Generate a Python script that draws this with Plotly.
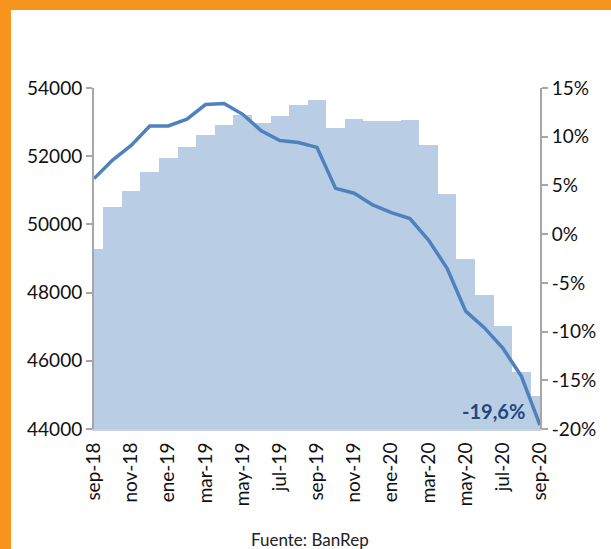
import plotly.graph_objects as go

months = ["sep-18", "oct-18", "nov-18", "dic-18", "ene-19", "feb-19", "mar-19", "abr-19",
          "may-19", "jun-19", "jul-19", "ago-19", "sep-19", "oct-19", "nov-19", "dic-19",
          "ene-20", "feb-20", "mar-20", "abr-20", "may-20", "jun-20", "jul-20", "ago-20", "sep-20"]
nivel = [49280, 50500, 50990, 51525, 51950, 52260, 52630, 52925, 53200, 52975, 53165, 53510,
         53655, 52830, 53100, 53020, 53040, 53050, 52340, 50900, 48995, 47920, 47010, 45660, 44955]
variacion = [5.7, 7.6, 9.1, 11.1, 11.1, 11.8, 13.3, 13.4, 12.3, 10.6, 9.6, 9.4, 8.9,
             4.7, 4.2, 3.0, 2.2, 1.6, -0.6, -3.5, -7.9, -9.6, -11.7, -14.6, -19.6]
left_ticks = [44000, 46000, 48000, 50000, 52000, 54000]
right_ticks = [-20, -15, -10, -5, 0, 5, 10, 15]
right_ticktext = ["-20%", "-15%", "-10%", "-5%", "0%", "5%", "10%", "15%"]
x_tick_idx = list(range(0, 25, 2))
x_ticktext = [months[i] for i in x_tick_idx]
idx = list(range(len(months)))

W, H = 611, 549
L, R, T, B = 94, 71, 88, 120
pw, ph = W - L - R, H - T - B


def px_x(p):
    return (p - L) / pw


def px_y(p):
    return (H - B - p) / ph


FONT = "Lato"
fig = go.Figure()
fig.add_trace(go.Bar(x=idx, y=nivel, marker=dict(color="#B9CDE5", line=dict(width=0)),
                     width=1, yaxis="y", hoverinfo="skip"))
fig.add_trace(go.Scatter(x=idx, y=variacion, mode="lines", yaxis="y2",
                         line=dict(color="#4F81BD", width=3.5)))

fig.add_annotation(x=24, y=variacion[-1], xref="x", yref="y2", text="<b>-19,6%</b>",
                   showarrow=False, xanchor="right", yanchor="middle", xshift=-13, yshift=14,
                   font=dict(family=FONT, size=20, color="#1F497D"))
fig.add_annotation(x=px_x(310), y=px_y(539), xref="paper", yref="paper",
                   text="Fuente: BanRep", showarrow=False, xanchor="center", yanchor="middle",
                   font=dict(family=FONT, size=17, color="#222222"))

# orange frame (top and left)
fig.add_shape(type="rect", xref="paper", yref="paper", x0=px_x(-5), x1=px_x(W + 5),
              y0=px_y(10), y1=px_y(-5), fillcolor="#F7941D", line=dict(width=0), layer="above")
fig.add_shape(type="rect", xref="paper", yref="paper", x0=px_x(-5), x1=px_x(11),
              y0=px_y(H + 5), y1=px_y(-5), fillcolor="#F7941D", line=dict(width=0), layer="above")

fig.update_layout(
    width=W, height=H, margin=dict(l=L, r=R, t=T, b=B),
    paper_bgcolor="white", plot_bgcolor="white", showlegend=False, bargap=0,
    font=dict(family=FONT, size=19, color="#111111"),
    xaxis=dict(range=[0, 24], tickvals=x_tick_idx, ticktext=x_ticktext, tickangle=-90,
               showgrid=False, zeroline=False, showline=True, linecolor="#C9D3E0", linewidth=2,
               ticks="outside", ticklen=4, tickcolor="rgba(0,0,0,0)", tickfont=dict(size=19)),
    yaxis=dict(range=[44000, 54000], tickvals=left_ticks, showgrid=False, zeroline=False,
               showline=True, linecolor="#A6A6A6", linewidth=2, ticks="outside", ticklen=6,
               tickcolor="#A6A6A6", tickwidth=1.5, tickformat="d"),
    yaxis2=dict(range=[-20, 15], overlaying="y", side="right", tickvals=right_ticks,
                ticktext=right_ticktext, showgrid=False, zeroline=False, showline=True,
                linecolor="#A6A6A6", linewidth=2, ticks="outside", ticklen=6,
                tickcolor="#A6A6A6", tickwidth=1.5),
)

fig.write_html("out.html", config={"displayModeBar": False},
               post_script="document.body.style.margin='0';document.body.style.overflow='hidden';")
